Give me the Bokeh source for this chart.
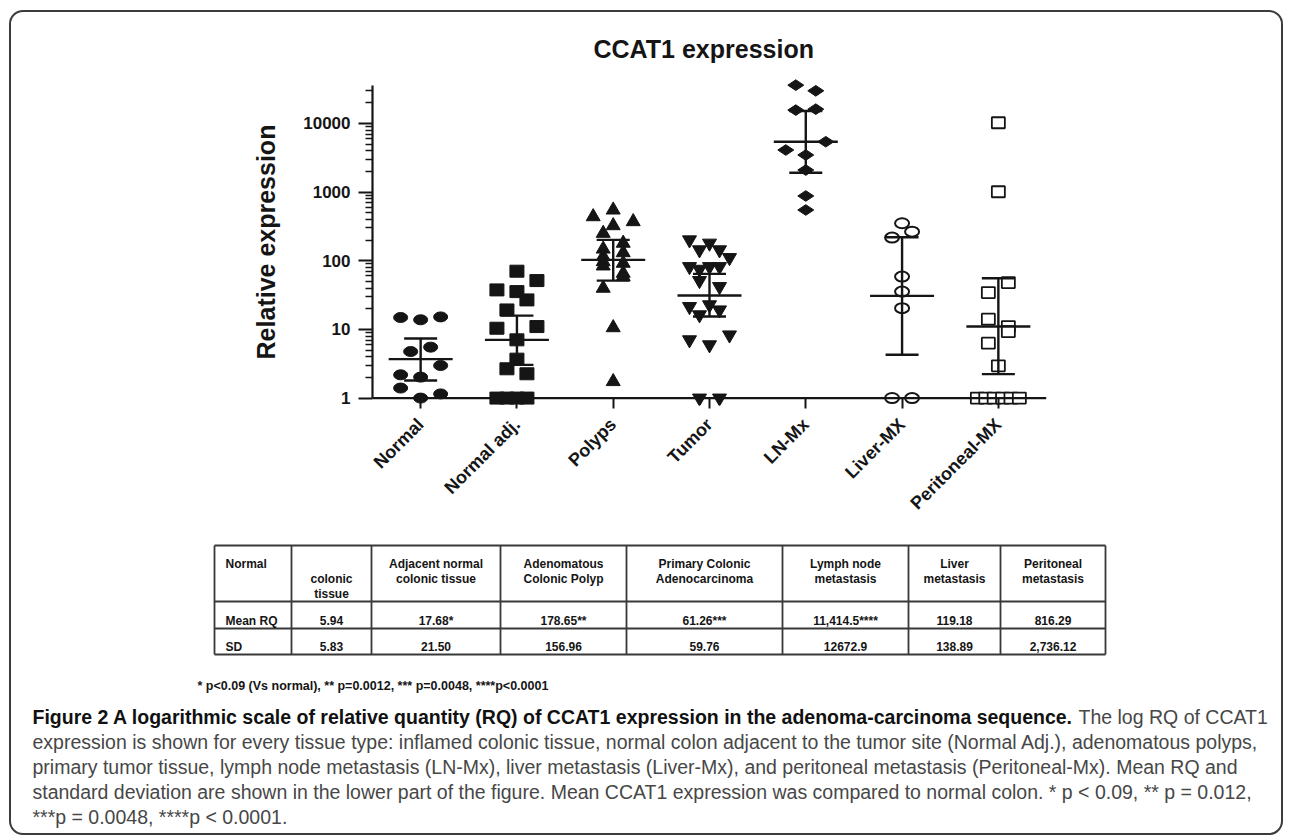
import math
from bokeh.plotting import figure
from bokeh.models import Range1d, FixedTicker, Span
from bokeh.layouts import column
from bokeh.embed import file_html
from bokeh.resources import INLINE
from bokeh.core.properties import value

# ---------------- data ----------------
title_text = "CCAT1 expression"
categories = ["Normal", "Normal adj.", "Polyps", "Tumor", "LN-Mx", "Liver-MX", "Peritoneal-MX"]

normal_vals = [14.9, 13.8, 15.2, 4.76, 5.52, 2.98, 2.18, 2.02, 1.40, 1.0, 1.15]
normal_slot = [-2, 0, 2, -1, 1, 2, -2, 0, -2, 0, 2]
adj_vals = [70.4, 51.4, 37.6, 35.5, 26.9, 19.2, 10.4, 11.0, 7.05, 3.69, 2.67, 2.26, 1, 1, 1, 1]
adj_slot = [0, 2, -2, 0, 1, -1, -2, 2, 0, 0, -1, 1, -2, -1, 0, 1]
polyp_vals = [548, 438, 371, 324, 251, 180, 148, 131, 115, 97, 92, 84, 65.8, 58.7, 39.8, 10.6, 1.74]
polyp_slot = [0, -2, 2, 0, -1, 1, -1, 1, -1, -1, 1, -1, 1, 1, -1, 0, 0]
tumor_vals = [201, 180, 144, 144, 111, 82, 75, 82, 82, 51.4, 42, 21.5, 22.8, 19.2, 16.3, 7.05, 5.96, 8.3, 1, 1]
tumor_slot = [-2, 0, -1, 1, 2, -2, -1, 0, 1, -1, 1, -2, 0, 1, -1, -2, 0, 2, -1, 1]
ln_vals = [36000, 29800, 15600, 16100, 5400, 4090, 3460, 2090, 877, 548]
ln_slot = [-1, 1, -1, 1, 2, -2, 0, 0, 0, 0]
liver_vals = [351, 265, 217, 58.7, 35.5, 20.4, 1, 1]
liver_slot = [0, 1, -1, 0, 0, 0, -1, 1]
perit_vals = [10200, 1010, 48, 34.4, 14.1, 11.0, 9.3, 6.3, 2.95, 1, 1, 1, 1, 1, 1]
perit_slot = [0, 0, 1, -1, -1, 1, 1, -1, 0, -2.1, -1.26, -0.42, 0.42, 1.26, 2.1]

means = [3.69, 7.05, 103, 31.1, 5400, 30.8, 11.0]
sd_upper = [7.36, 15.9, 201, 64.3, 15100, 220, 55.6]
sd_lower = [1.80, 3.05, 51.4, 15.4, 1913, 4.27, 2.23]

ytick_vals = [1, 10, 100, 1000, 10000]
ytick_labels = ["1", "10", "100", "1000", "10000"]

table_col1 = ["Normal", "Mean RQ", "SD"]
table_headers = [["colonic", "tissue"], ["Adjacent normal", "colonic tissue"],
                 ["Adenomatous", "Colonic Polyp"], ["Primary Colonic", "Adenocarcinoma"],
                 ["Lymph node", "metastasis"], ["Liver", "metastasis"], ["Peritoneal", "metastasis"]]
mean_rq = ["5.94", "17.68*", "178.65**", "61.26***", "11,414.5****", "119.18", "816.29"]
sd_row = ["5.83", "21.50", "156.96", "59.76", "12672.9", "138.89", "2,736.12"]

footnote = "* p<0.09 (Vs normal), ** p=0.0012, *** p=0.0048, ****p<0.0001"
caption_bold = "Figure 2 A logarithmic scale of relative quantity (RQ) of CCAT1 expression in the adenoma-carcinoma sequence."
caption_lines = [
    "The log RQ of CCAT1",
    "expression is shown for every tissue type: inflamed colonic tissue, normal colon adjacent to the tumor site (Normal Adj.), adenomatous polyps,",
    "primary tumor tissue, lymph node metastasis (LN-Mx), liver metastasis (Liver-Mx), and peritoneal metastasis (Peritoneal-Mx). Mean RQ and",
    "standard deviation are shown in the lower part of the figure. Mean CCAT1 expression was compared to normal colon. * p < 0.09, ** p = 0.012,",
    "***p = 0.0048, ****p < 0.0001.",
]

# ---------------- layout constants (page pixels) ----------------
BX, BY, BW = 9, 10, 2         # outer border position and width
OX, OY = BX + BW, BY + BW     # children origin on the page
W = 1283 - BW - OX            # inner width
TSPLIT = 70                   # page y where the chart panel starts
SPLIT = 535                   # page y where the lower panel starts
H0 = TSPLIT - OY
H1 = SPLIT - TSPLIT
H2 = 835 - BW - SPLIT
AX_L, AX_R = 372, 1046        # chart frame, page x
FT = 78                       # frame top, page y
FH = 327
PX = (AX_R - AX_L) / 7.0
SLOT = 10.0 / PX
INK = "#151515"
FONT = value("Liberation Sans")


def blank_panel(height, y0):
    f = figure(width=W, height=height, x_range=Range1d(OX, OX + W),
               y_range=Range1d(y0 + height, y0), output_backend="svg",
               toolbar_location=None, min_border=0, x_axis_location=None, y_axis_location=None)
    f.frame_align = False
    f.grid.visible = False
    f.outline_line_color = None
    f.border_fill_color = None
    f.background_fill_color = None
    return f


# ---------------- title panel ----------------
t = blank_panel(H0, OY)
t.text(x=[593], y=[48.5], text=[title_text], text_font=FONT, text_font_size="25px",
       text_font_style="bold", text_color=INK, text_align="left", text_baseline="alphabetic")

# ---------------- chart ----------------
p = figure(width=W, height=H1, x_range=Range1d(0.5, 7.5), y_range=Range1d(0.78, 45000),
           y_axis_type="log", output_backend="svg", toolbar_location=None,
           min_border_left=AX_L - OX, min_border_right=W - (AX_R - OX),
           min_border_top=FT - TSPLIT, min_border_bottom=H1 - (FT - TSPLIT) - FH)
p.frame_align = False
p.grid.visible = False
p.outline_line_color = None
p.border_fill_color = None
p.background_fill_color = None

xa = p.xaxis[0]
xa.ticker = FixedTicker(ticks=list(range(1, 8)))
xa.major_label_overrides = {i + 1: c for i, c in enumerate(categories)}
xa.major_label_orientation = math.pi / 4
xa.axis_line_color = None
xa.major_tick_in = 7
xa.major_tick_out = 3
xa.major_tick_line_width = 2
xa.major_tick_line_color = INK
xa.minor_tick_out = 0
xa.minor_tick_in = 0
xa.major_label_text_font = "Liberation Sans"
xa.major_label_text_font_size = "18px"
xa.major_label_text_font_style = "bold"
xa.major_label_text_color = INK
xa.major_label_standoff = 13

# the x axis line sits at relative expression = 1
p.add_layout(Span(location=1, dimension="width", line_color=INK, line_width=2.2))

minor = [m * 10 ** e for e in range(0, 5) for m in range(2, 10) if m * 10 ** e <= 36000]
ya = p.yaxis[0]
ya.ticker = FixedTicker(ticks=ytick_vals, minor_ticks=minor)
ya.major_label_overrides = dict(zip(ytick_vals, ytick_labels))
ya.bounds = (1, 36000)
ya.axis_line_width = 2.2
ya.axis_line_color = INK
ya.major_tick_out = 14
ya.major_tick_in = 0
ya.major_tick_line_width = 2
ya.major_tick_line_color = INK
ya.minor_tick_out = 7
ya.minor_tick_in = 0
ya.minor_tick_line_width = 1.5
ya.minor_tick_line_color = INK
ya.major_label_text_font = "Liberation Sans"
ya.major_label_text_font_size = "17px"
ya.major_label_text_font_style = "bold"
ya.major_label_text_color = INK
ya.major_label_standoff = 8
ya.axis_label = "Relative expression"
ya.axis_label_text_font = "Liberation Sans"
ya.axis_label_text_font_size = "25px"
ya.axis_label_text_font_style = "bold"
ya.axis_label_text_color = INK
ya.axis_label_standoff = 20


def xs(idx, slots):
    return [idx + 1 + s * SLOT for s in slots]


# markers
p.ellipse(x=xs(0, normal_slot), y=normal_vals, width=14, height=10,
          width_units="screen", height_units="screen", fill_color=INK, line_color=INK)
p.rect(x=xs(1, adj_slot), y=adj_vals, width=14, height=12,
       width_units="screen", height_units="screen", fill_color=INK, line_color=INK)
p.scatter(x=xs(2, polyp_slot), y=polyp_vals, marker="triangle", size=14,
          fill_color=INK, line_color=INK)
p.scatter(x=xs(3, tumor_slot), y=tumor_vals, marker="inverted_triangle", size=14,
          fill_color=INK, line_color=INK)
p.scatter(x=xs(4, ln_slot), y=ln_vals, marker="diamond", size=16, angle=math.pi / 2,
          fill_color=INK, line_color=INK)
p.ellipse(x=xs(5, liver_slot), y=liver_vals, width=14, height=10,
          width_units="screen", height_units="screen", fill_color="white",
          line_color=INK, line_width=2)
p.rect(x=xs(6, perit_slot), y=perit_vals, width=13, height=11,
       width_units="screen", height_units="screen", fill_color="white",
       line_color=INK, line_width=1.8)

# mean and SD bars
cx = [i + 1 for i in range(7)]
mw = 32.0 / PX
cw = 16.5 / PX
p.segment(x0=[c - mw for c in cx], x1=[c + mw for c in cx], y0=means, y1=means,
          line_color=INK, line_width=2.4)
p.segment(x0=cx, x1=cx, y0=sd_lower, y1=sd_upper, line_color=INK, line_width=2.4)
p.segment(x0=[c - cw for c in cx], x1=[c + cw for c in cx], y0=sd_upper, y1=sd_upper,
          line_color=INK, line_width=2.4)
p.segment(x0=[c - cw for c in cx], x1=[c + cw for c in cx], y0=sd_lower, y1=sd_lower,
          line_color=INK, line_width=2.4)

# ---------------- lower panel: table, footnote, caption (page-pixel coordinates) ----------------
q = blank_panel(H2, SPLIT)

cols = [214, 291, 371, 500, 626, 782, 908, 1000, 1105]
rows = [545, 601, 628, 654]
q.segment(x0=cols, x1=cols, y0=[rows[0]] * len(cols), y1=[rows[-1]] * len(cols),
          line_color="#383838", line_width=1.8)
q.segment(x0=[cols[0]] * len(rows), x1=[cols[-1]] * len(rows), y0=rows, y1=rows,
          line_color="#383838", line_width=1.8)

TF = "12px"
q.text(x=[cols[0] + 11] * 3, y=[563, 620, 646], text=table_col1, text_font=FONT,
       text_font_size=TF, text_font_style="bold", text_color=INK,
       text_align="left", text_baseline="alphabetic")
hx, hy, ht = [], [], []
for j, lines in enumerate(table_headers):
    c = (cols[j + 1] + cols[j + 2]) / 2
    base = 578 if j == 0 else 563
    for k, tx in enumerate(lines):
        hx.append(c)
        hy.append(base + 15 * k)
        ht.append(tx)
q.text(x=hx, y=hy, text=ht, text_font=FONT, text_font_size=TF, text_font_style="bold",
       text_color=INK, text_align="center", text_baseline="alphabetic")
ccx = [(cols[j + 1] + cols[j + 2]) / 2 for j in range(7)]
q.text(x=ccx, y=[620] * 7, text=mean_rq, text_font=FONT, text_font_size=TF,
       text_font_style="bold", text_color=INK, text_align="center", text_baseline="alphabetic")
q.text(x=ccx, y=[646] * 7, text=sd_row, text_font=FONT, text_font_size=TF,
       text_font_style="bold", text_color=INK, text_align="center", text_baseline="alphabetic")

q.text(x=[197], y=[685], text=[footnote], text_font=FONT, text_font_size="12.5px",
       text_font_style="bold", text_color=INK, text_align="left", text_baseline="alphabetic")

CFS = "19.5px"
CX = 32
q.text(x=[CX], y=[716], text=[caption_bold], text_font=FONT, text_font_size=CFS,
       text_font_style="bold", text_color="#111111", text_align="left",
       text_baseline="alphabetic")
q.text(x=[CX + 1046, CX, CX, CX, CX], y=[716, 741, 766, 791, 816], text=caption_lines,
       text_font=FONT, text_font_size=CFS, text_color="#474747", text_align="left",
       text_baseline="alphabetic")

layout = column(t, p, q, styles={"border": "%dpx solid #3c3c3c" % BW, "border-radius": "14px",
                                 "margin-left": "%dpx" % BX, "margin-top": "%dpx" % BY})

open("out.html", "w").write(file_html(layout, INLINE))
